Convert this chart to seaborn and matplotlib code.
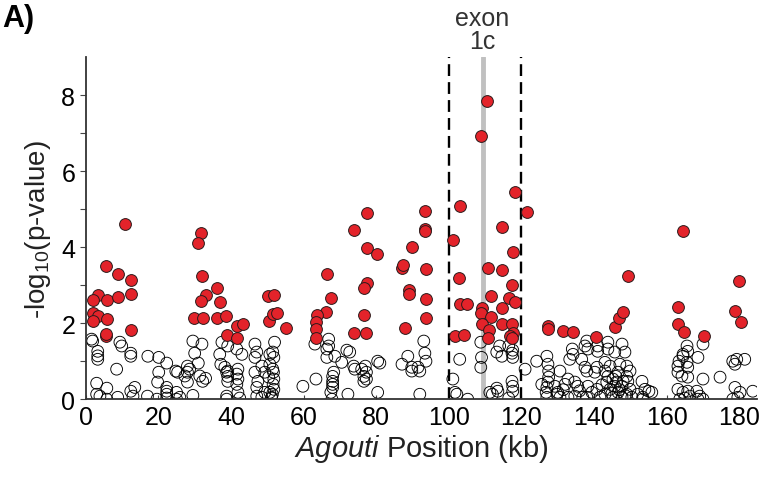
import numpy as np
import pandas as pd
import matplotlib
matplotlib.use('Agg')
import matplotlib.pyplot as plt
import seaborn as sns

# significant SNPs (red) : position (kb), -log10(p)
sig_x = [10.7, 5.5, 8.8, 12.4, 3.3, 1.9, 5.8, 8.8, 12.4, 1.9, 3.3, 5.8, 1.9, 5.5, 5.7, 12.4,
         31.7, 30.9, 32.0, 36.1, 33.0, 31.7, 36.9, 29.8, 32.2, 36.1, 38.6, 41.6, 43.3, 38.8, 41.6,
         50.1, 51.8, 50.4, 51.5, 52.6, 55.1,
         66.4, 67.5, 66.1, 63.6, 63.4, 63.4, 63.4,
         73.8, 77.4, 77.4, 77.4, 76.6, 76.6, 73.8, 80.2, 77.2,
         87.1, 87.3, 89.8, 89.0, 89.0, 87.9, 93.4, 93.4, 93.5, 93.7, 93.7, 93.7,
         101.1, 103.0, 102.8, 103.0, 104.9, 101.7, 104.1,
         110.5, 108.8, 118.2, 121.5, 114.6, 117.6, 110.7, 114.6, 117.4, 111.6, 116.5, 118.2,
         114.6, 109.0, 108.8, 111.6, 109.0, 114.6, 117.4, 111.0, 117.6, 116.8, 110.7, 117.4,
         127.3, 127.3, 131.4, 134.2, 140.5, 145.7, 146.8, 147.9, 149.3,
         164.5, 163.1, 163.1, 164.7, 170.2, 179.9, 178.8, 180.4]
sig_y = [4.6, 3.5, 3.3, 3.13, 2.74, 2.6, 2.6, 2.68, 2.77, 2.28, 2.2, 2.1, 2.05, 1.66, 1.72, 1.82,
         4.37, 4.1, 3.23, 2.92, 2.74, 2.58, 2.55, 2.13, 2.13, 2.13, 2.18, 1.92, 1.97, 1.68, 1.6,
         2.71, 2.74, 2.05, 2.24, 2.26, 1.87,
         3.29, 2.66, 2.29, 2.21, 2.03, 1.84, 1.6,
         4.45, 4.9, 3.97, 3.05, 2.92, 2.21, 1.74, 3.82, 1.74,
         3.45, 3.52, 4.0, 2.87, 2.76, 1.87, 4.95, 4.47, 4.42, 3.42, 2.63, 2.13,
         4.18, 5.08, 3.18, 2.5, 2.5, 1.66, 1.68,
         7.84, 6.92, 5.45, 4.92, 4.53, 3.87, 3.45, 3.39, 3.0, 2.71, 2.66, 2.55,
         2.39, 2.39, 2.26, 2.16, 1.97, 1.97, 1.97, 1.82, 1.74, 1.66, 1.6, 1.6,
         1.92, 1.84, 1.79, 1.76, 1.63, 1.89, 2.13, 2.29, 3.24,
         4.42, 2.42, 1.97, 1.76, 1.66, 3.1, 2.32, 2.03]

# non-significant SNPs (open circles)
ns_x = [1.9, 1.6, 3.3, 3.3, 3.3, 9.4, 9.9, 12.4, 12.4, 8.5, 17.1, 20.1, 22.3, 20.1, 24.8, 19.8,
        3.0, 5.8, 3.0, 3.9, 5.8, 8.8, 12.4, 13.5, 13.0, 17.0, 19.6, 22.3, 22.3, 22.3, 22.3, 25.0, 25.0,
        25.3, 28.0, 28.6, 28.0, 27.3, 28.0, 29.5, 25.9, 29.5, 32.0, 30.0, 31.0, 31.4, 33.0, 32.2,
        37.5, 39.1, 36.9, 37.2, 38.3, 39.1, 38.8, 39.1, 39.1, 41.6, 43.0, 41.9, 41.6, 41.9, 41.6,
        38.8, 38.8, 42.4, 41.9,
        46.6, 47.1, 46.6, 48.5, 46.6, 49.3, 47.4, 47.1, 50.7, 50.7, 50.4, 49.3, 48.5, 47.1, 50.7, 51.2,
        52.0, 51.5, 51.8, 51.5, 51.7, 51.8, 51.6, 51.8, 51.4, 51.2,
        59.8, 63.4, 63.1, 66.9, 66.9, 66.4, 66.4, 68.6, 70.5, 68.3, 68.0, 68.0, 68.0, 68.0, 67.5, 67.8,
        71.9, 72.7, 72.2, 73.8, 74.1, 76.0, 76.6, 76.6,
        77.0, 77.3, 77.3, 80.4, 81.0, 80.4, 87.1, 88.7, 89.8, 89.8, 91.5, 92.0, 93.7, 93.4, 93.1, 92.0,
        101.1, 101.7, 103.0, 108.8, 109.0, 108.8, 111.3, 112.0, 113.5, 105.2, 114.0, 113.2, 114.6,
        116.5, 117.6, 117.4, 117.6, 121.0, 117.4, 117.6, 117.6, 116.5, 124.2, 127.0, 127.3, 127.5,
        127.5, 127.3, 127.0, 126.8, 127.0, 125.6, 129.8, 102.2, 113.2,
        138.0, 137.5, 138.3, 134.0, 134.2, 133.3, 143.8, 143.8, 147.7, 148.5, 145.7, 141.0, 141.0,
        140.8, 140.2, 136.6, 137.5, 138.0, 130.6, 132.8, 132.0, 134.7, 135.5, 129.2, 130.0, 130.6,
        132.8, 134.7, 136.9, 138.3, 139.4, 138.0, 143.0, 144.4, 143.0, 143.8, 145.2, 143.5, 144.4,
        145.7, 146.6, 145.2, 147.7, 143.0, 141.6, 140.8, 149.0, 149.9, 149.0, 149.3, 149.9, 149.0,
        150.4, 147.1, 146.6, 148.0, 147.7, 153.2, 154.0, 153.4, 155.9, 152.0, 155.1, 153.4,
        146.0, 147.0, 148.5, 144.9, 146.2, 142.2, 136.0, 131.5,
        165.6, 165.8, 164.5, 164.5, 163.4, 163.1, 165.6, 165.8, 163.1, 164.2, 165.8, 168.6, 170.0,
        170.0, 174.7, 163.1, 164.5, 165.8, 166.4, 165.0, 163.6, 168.3, 169.1, 170.0, 168.6,
        178.2, 179.3, 181.5, 178.8, 178.8, 180.2, 179.6, 178.2, 183.7]
ns_y = [1.53, 1.58, 1.26, 1.14, 1.05, 1.5, 1.4, 1.21, 1.13, 0.79, 1.13, 1.1, 0.95, 0.71, 0.74, 0.45,
        0.42, 0.29, 0.13, 0.08, 0.0, 0.05, 0.21, 0.31, 0.08, 0.08, 0.0, 0.31, 0.21, 0.13, 0.03, 0.18, 0.0,
        0.71, 0.87, 0.79, 0.71, 0.61, 0.45, 0.1, 0.05, 1.53, 1.45, 1.21, 0.95, 0.61, 0.55, 0.47,
        1.5, 1.4, 1.18, 0.92, 0.84, 0.74, 0.71, 0.6, 0.47, 1.32, 1.18, 0.79, 0.66, 0.53, 0.39,
        0.08, 0.0, 0.03, 0.18,
        1.45, 1.24, 1.1, 0.87, 0.71, 0.71, 0.47, 0.31, 1.18, 0.92, 0.58, 0.18, 0.05, 0.08, 0.18, 0.03,
        1.5, 1.24, 1.1, 0.79, 0.71, 0.53, 0.39, 0.26, 0.13, 0.05,
        0.34, 0.53, 1.45, 1.58, 1.4, 1.32, 1.1, 1.13, 0.97, 0.71, 0.6, 0.47, 0.39, 0.31, 0.18, 0.0,
        1.29, 1.24, 0.13, 0.87, 0.79, 0.79, 0.6, 0.47,
        0.87, 0.71, 0.53, 1.0, 0.95, 0.18, 0.92, 1.13, 0.84, 0.74, 0.84, 0.74, 1.0, 1.21, 1.53, 0.13,
        0.53, 0.18, 1.05, 1.5, 1.1, 0.84, 0.18, 0.13, 0.21, 0.0, 1.4, 1.24, 1.13,
        1.4, 1.29, 1.21, 1.1, 0.79, 0.47, 0.34, 0.21, 0.03, 1.0, 1.13, 0.92, 0.74,
        0.58, 0.45, 0.31, 0.18, 0.05, 0.39, 0.13, 0.13, 0.29,
        1.53, 1.4, 1.32, 1.32, 1.18, 1.05, 1.5, 1.32, 1.45, 1.24, 1.24, 1.4, 1.26,
        0.84, 0.71, 1.05, 0.84, 0.74, 0.74, 0.53, 0.39, 0.45, 0.34, 0.34, 0.18, 0.05,
        0.05, 0.08, 0.05, 0.34, 0.18, 0.05, 0.97, 0.87, 0.74, 0.6, 0.53, 0.45, 0.26,
        0.34, 0.18, 0.05, 0.05, 0.13, 0.05, 0.26, 0.87, 0.74, 0.6, 0.47, 0.26, 0.13,
        0.05, 0.92, 0.71, 0.47, 0.34, 0.47, 0.26, 0.05, 0.18, 0.13, 0.21, 0.0,
        0.6, 0.25, 0.1, 0.15, 0.45, 0.38, 0.22, 0.25,
        1.4, 1.26, 1.18, 1.13, 1.0, 0.87, 0.97, 0.84, 0.71, 0.61, 0.58, 1.1, 1.45,
        0.53, 0.58, 0.26, 0.18, 0.21, 0.08, 0.03, 0.0, 0.21, 0.08, 0.0, 0.0,
        1.0, 1.05, 1.05, 0.92, 0.31, 0.18, 0.05, 0.0, 0.21]

region_bounds = [100, 120]
exon_pos = 109.3

sig = pd.DataFrame({'pos': sig_x, 'logp': sig_y})
ns = pd.DataFrame({'pos': ns_x, 'logp': ns_y})

sns.set_style('ticks')
plt.rcParams['font.family'] = ['Liberation Sans', 'DejaVu Sans']
plt.rcParams['mathtext.fontset'] = 'custom'
plt.rcParams['mathtext.rm'] = 'Liberation Sans'
plt.rcParams['mathtext.it'] = 'Liberation Sans:italic'

fig = plt.figure(figsize=(7.59, 4.81), dpi=100)
ax = fig.add_axes([0.113, 0.168, 0.884, 0.711])

# exon 1c marker and the dashed window
ax.axvline(exon_pos, color='#c0c0c0', lw=3.5, zorder=1)
for b in region_bounds:
    ax.axvline(b, color='black', lw=1.7, ls=(0, (5, 2.6)), zorder=1)

sns.scatterplot(data=ns, x='pos', y='logp', ax=ax, s=72, facecolor='none',
                edgecolor='black', linewidth=0.65, zorder=2, legend=False)
sns.scatterplot(data=sig, x='pos', y='logp', ax=ax, s=72, color='#e3232a',
                edgecolor='#2a1a1a', linewidth=0.7, zorder=3, legend=False)

ax.set_xlim(0, 184.8)
ax.set_ylim(0, 9.0)
ax.set_xticks(np.arange(0, 181, 20))
ax.set_yticks(np.arange(0, 9, 2))
ax.set_yticks(np.arange(0, 9, 1), minor=True)
ax.tick_params(axis='x', direction='in', length=3, width=0.8, labelsize=18, pad=4,
               color='#444444', labelcolor='black')
ax.tick_params(axis='y', which='both', direction='out', length=4, width=0.8, labelsize=18,
               color='#444444', labelcolor='black')
for s in ['top', 'right']:
    ax.spines[s].set_visible(False)
for s in ['left', 'bottom']:
    ax.spines[s].set_color('#333333')
    ax.spines[s].set_linewidth(1.3)

ax.set_xlabel(r'$\mathit{Agouti}$ Position (kb)', fontsize=21, color='#222222', labelpad=2)
ax.set_ylabel(r'-log$_{10}$(p-value)', fontsize=20, color='#222222', labelpad=6)

ax.text(exon_pos, 9.1, 'exon\n1c', ha='center', va='bottom', fontsize=18,
        color='#333333', linespacing=0.95, transform=ax.transData, clip_on=False)
fig.text(0.003, 0.992, 'A)', ha='left', va='top', fontsize=22, fontweight='bold', color='black')

fig.savefig('out.png', dpi=100)
